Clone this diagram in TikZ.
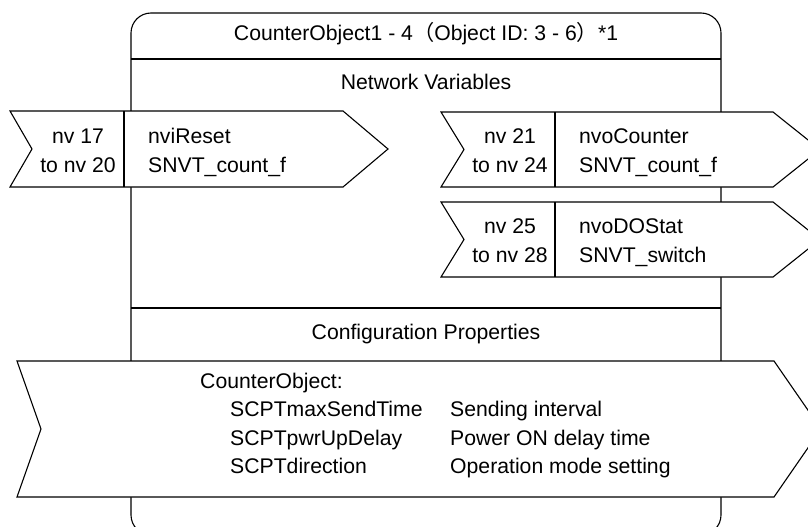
\documentclass[tikz,border=0pt]{standalone}
\usepackage{fontspec}
\setmainfont{Liberation Sans}
\newfontfamily\cjk{Noto Sans CJK JP}
\usetikzlibrary{positioning}

\begin{document}
\begin{tikzpicture}[
    x=1pt, y=-1pt,
    node distance=12.7pt,
    frame/.style={
        draw,
        line width=1.1pt,
        rounded corners=20pt,
    },
    divider/.style={
        line width=1.1pt,
    },
    flag/.style={
        draw,
        fill=white,
        line width=1.1pt,
        line join=miter,
    },
    txt/.style={
        font=\fontsize{21.2}{26}\selectfont,
        inner sep=0pt,
        text height=15.3pt,
        text depth=0pt,
    }
]
    \useasboundingbox (0,0) rectangle (808,527);
    \clip (0,0) rectangle (808,527);

    % Object frame
    \draw[frame] (426,13) -- (721,13) -- (721,535) -- (131,535) -- (131,13) -- cycle;
    \draw[divider] (131,59) -- (721,59);
    \draw[divider] (131,308) -- (721,308);

    % Headings
    \node[txt] (title) at (426,33) {CounterObject1 - 4{\cjk （}Object ID: 3 - 6{\cjk ）}*1};
    \node[txt] (netvars) at (426,82) {Network Variables};
    \node[txt] (confprops) at (426,332) {Configuration Properties};

    % Input variable
    \draw[flag] (10,111) -- (343,111) -- (388,149) -- (343,187) -- (10,187) -- (32,149) -- cycle;
    \draw[divider] (124,111) -- (124,187);
    \node[txt] (nvi1) at (78,136) {nv 17};
    \node[txt, below=of nvi1] (nvi2) {to nv 20};
    \node[txt, anchor=west] (nviname) at (148,136) {nviReset};
    \node[txt, below=of nviname.south west, anchor=north west] (nvitype) {SNVT\_count\_f};

    % Output variables
    \draw[flag] (441,112) -- (773,112) -- (820,149.5) -- (773,187) -- (441,187) -- (464,149.5) -- cycle;
    \draw[divider] (555,112) -- (555,187);
    \node[txt] (cnt1) at (510,136) {nv 21};
    \node[txt, below=of cnt1] (cnt2) {to nv 24};
    \node[txt, anchor=west] (cntname) at (579,136) {nvoCounter};
    \node[txt, below=of cntname.south west, anchor=north west] (cnttype) {SNVT\_count\_f};

    \draw[flag] (441,202) -- (773,202) -- (820,239.5) -- (773,277) -- (441,277) -- (464,239.5) -- cycle;
    \draw[divider] (555,202) -- (555,277);
    \node[txt] (dos1) at (510,226) {nv 25};
    \node[txt, below=of dos1] (dos2) {to nv 28};
    \node[txt, anchor=west] (dosname) at (579,226) {nvoDOStat};
    \node[txt, below=of dosname.south west, anchor=north west] (dostype) {SNVT\_switch};

    % Configuration properties
    \draw[flag] (17,361) -- (774,361) -- (821,429) -- (774,497) -- (17,497) -- (41,429) -- cycle;
    \node[txt, anchor=west] (cobj) at (200,381) {CounterObject:};
    \node[txt, anchor=west] (scpt1) at (230,409) {SCPTmaxSendTime};
    \node[txt, below=of scpt1.south west, anchor=north west] (scpt2) {SCPTpwrUpDelay};
    \node[txt, below=of scpt2.south west, anchor=north west] (scpt3) {SCPTdirection};
    \node[txt, anchor=west] (desc1) at (450,409) {Sending interval};
    \node[txt, below=of desc1.south west, anchor=north west] (desc2) {Power ON delay time};
    \node[txt, below=of desc2.south west, anchor=north west] (desc3) {Operation mode setting};
\end{tikzpicture}
\end{document}
